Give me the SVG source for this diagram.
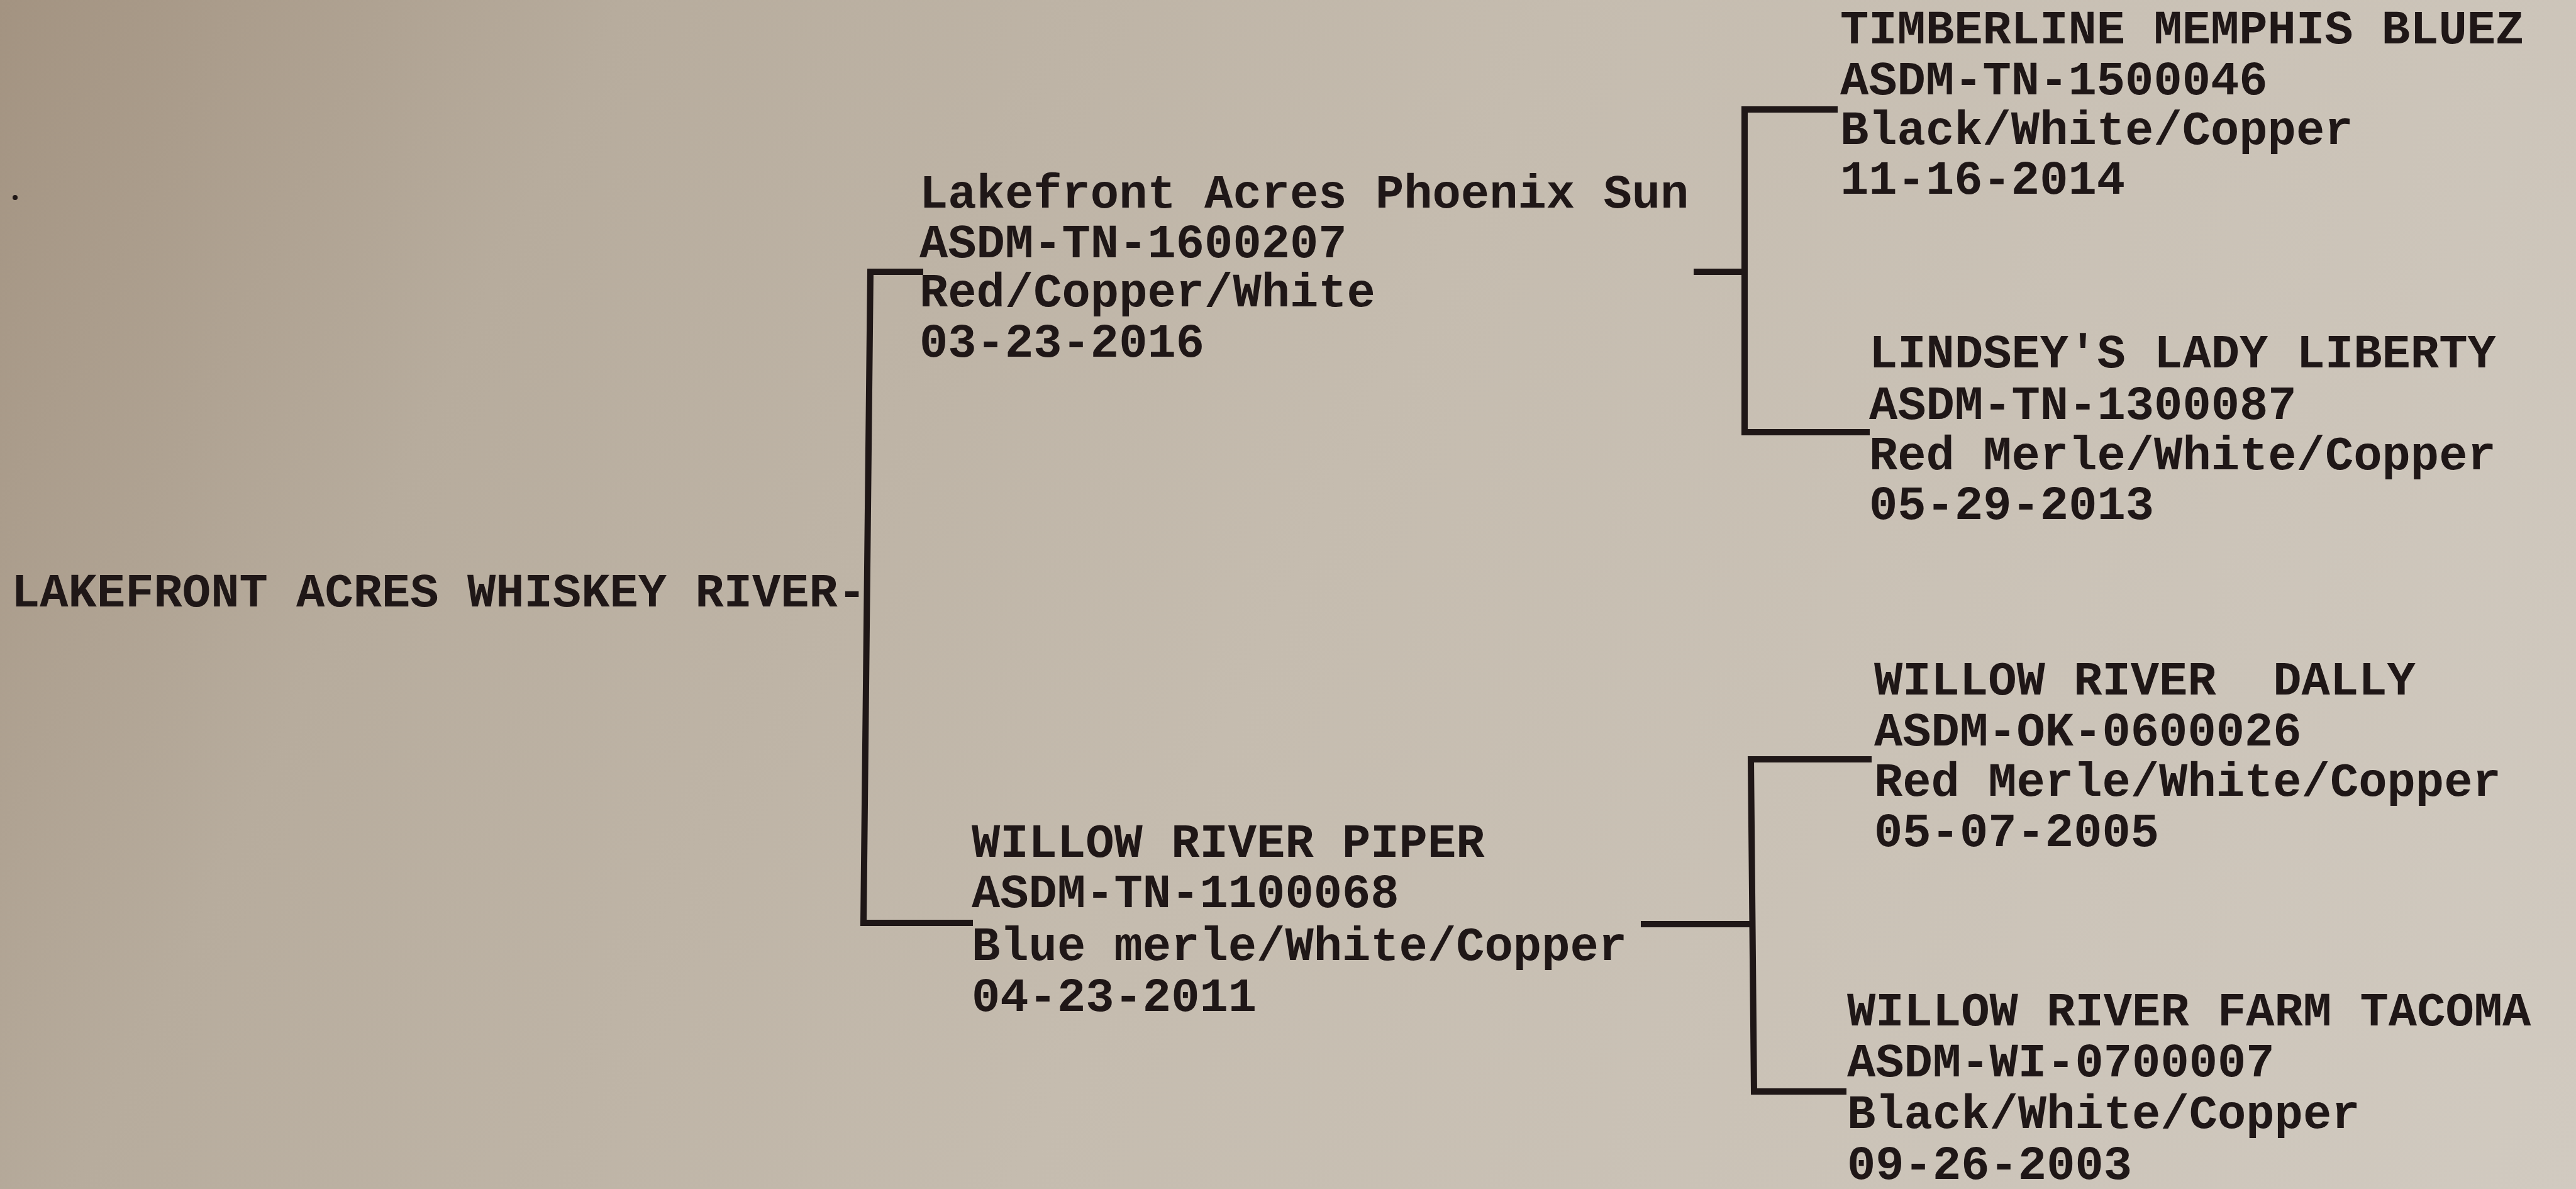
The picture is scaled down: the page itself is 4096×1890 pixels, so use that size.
<svg xmlns="http://www.w3.org/2000/svg" width="4096" height="1890" viewBox="0 0 4096 1890">
  <defs>
    <linearGradient id="paper" gradientUnits="userSpaceOnUse" x1="0" y1="0" x2="4096" y2="1890">
      <stop offset="0" stop-color="#a39381"/>
      <stop offset="0.2" stop-color="#b7ac9d"/>
      <stop offset="0.5" stop-color="#c5bcaf"/>
      <stop offset="1" stop-color="#d1cac0"/>
    </linearGradient>
    <style>
      .t { font-family: "Liberation Mono", "Courier New", monospace; font-weight: bold; font-size: 75.5px; fill: #1f1717; }
      .c { fill: none; stroke: #1f1717; stroke-width: 10; stroke-linecap: square; stroke-linejoin: miter; }
    </style>
  </defs>
  <rect x="0" y="0" width="4096" height="1890" fill="url(#paper)"/>
  <circle cx="24" cy="314" r="4" fill="#1f1717"/>

  <g id="connectors">
    <path class="c" d="M1463 432 H1384 L1373 1467 H1542"/>
    <path class="c" d="M2698 432 H2774"/>
    <path class="c" d="M2917 174 H2774 V687 H2968"/>
    <path class="c" d="M2614 1469 H2784"/>
    <path class="c" d="M2971 1207 H2784 L2789 1735 H2931"/>
  </g>

  <g id="root">
    <text class="t" x="18" y="964">LAKEFRONT ACRES WHISKEY RIVER-</text>
  </g>

  <g id="sire">
    <text class="t" x="1462" y="330">Lakefront Acres Phoenix Sun</text>
    <text class="t" x="1462" y="409">ASDM-TN-1600207</text>
    <text class="t" x="1462" y="487">Red/Copper/White</text>
    <text class="t" x="1462" y="567">03-23-2016</text>
  </g>

  <g id="sire-sire">
    <text class="t" x="2926" y="69">TIMBERLINE MEMPHIS BLUEZ</text>
    <text class="t" x="2926" y="150">ASDM-TN-1500046</text>
    <text class="t" x="2926" y="229">Black/White/Copper</text>
    <text class="t" x="2926" y="308">11-16-2014</text>
  </g>

  <g id="sire-dam">
    <text class="t" x="2972" y="584">LINDSEY'S LADY LIBERTY</text>
    <text class="t" x="2972" y="666">ASDM-TN-1300087</text>
    <text class="t" x="2972" y="746">Red Merle/White/Copper</text>
    <text class="t" x="2972" y="825">05-29-2013</text>
  </g>

  <g id="dam">
    <text class="t" x="1545" y="1362">WILLOW RIVER PIPER</text>
    <text class="t" x="1545" y="1442">ASDM-TN-1100068</text>
    <text class="t" x="1545" y="1526">Blue merle/White/Copper</text>
    <text class="t" x="1545" y="1607">04-23-2011</text>
  </g>

  <g id="dam-sire">
    <text class="t" x="2980" y="1104" xml:space="preserve">WILLOW RIVER  DALLY</text>
    <text class="t" x="2980" y="1185">ASDM-OK-0600026</text>
    <text class="t" x="2980" y="1265">Red Merle/White/Copper</text>
    <text class="t" x="2980" y="1345">05-07-2005</text>
  </g>

  <g id="dam-dam">
    <text class="t" x="2937" y="1630">WILLOW RIVER FARM TACOMA</text>
    <text class="t" x="2937" y="1711">ASDM-WI-0700007</text>
    <text class="t" x="2937" y="1793">Black/White/Copper</text>
    <text class="t" x="2937" y="1874">09-26-2003</text>
  </g>
</svg>
